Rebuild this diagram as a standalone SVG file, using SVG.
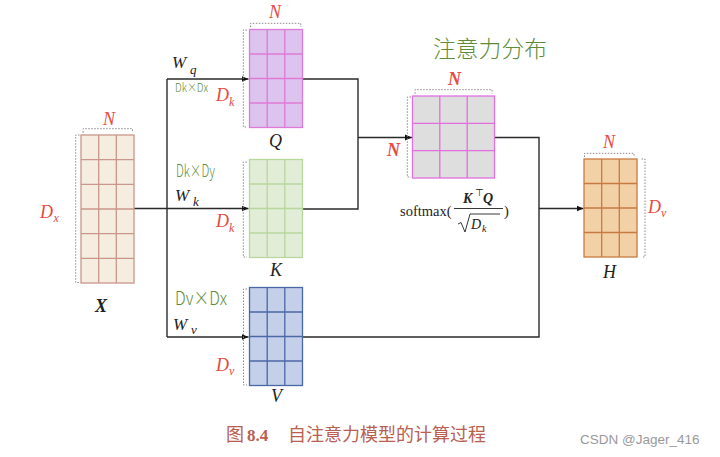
<svg xmlns="http://www.w3.org/2000/svg" width="720" height="457" viewBox="0 0 720 457">
<defs>
<marker id="arr" markerWidth="8" markerHeight="8" refX="7" refY="4" orient="auto" markerUnits="userSpaceOnUse">
<path d="M0,1 L7,4 L0,7 Z" fill="#111"/>
</marker>
<style>
.m{font-family:"Liberation Serif",serif;font-style:italic;}
.red{fill:#e84a3f;}
.blk{fill:#222;}
.br{fill:none;stroke:#8a8a8a;stroke-width:1;stroke-dasharray:1.5 1.5;}
.ln{fill:none;stroke:#2a2a2a;stroke-width:1.4;}
.hw{font-family:"Noto Sans CJK SC","DejaVu Sans",sans-serif;font-weight:300;fill:#5e8c3a;}
.gx{fill:#f5eee0;stroke:#c9968a;stroke-width:1.3;}
.gq{fill:#dcc4ee;stroke:#df7ad8;stroke-width:1.3;}
.gk{fill:#e1edd6;stroke:#b8d69e;stroke-width:1.3;}
.gv{fill:#c4cfe9;stroke:#4b68a6;stroke-width:1.3;}
.ga{fill:#dddedd;stroke:#e46ee0;stroke-width:1.3;}
.gh{fill:#f3d1a6;stroke:#c87a43;stroke-width:1.3;}
</style>
</defs>
<rect width="720" height="457" fill="#fff"/>

<g id="connectors">
<path class="ln" d="M134,208.5 H167"/>
<path class="ln" d="M167,79 V337"/>
<path class="ln" d="M167,79 H248.5" marker-end="url(#arr)"/>
<path class="ln" d="M167,208.5 H248.5" marker-end="url(#arr)"/>
<path class="ln" d="M167,337 H248.5" marker-end="url(#arr)"/>
<path class="ln" d="M302.5,79 H358 V209 H302.5"/>
<path class="ln" d="M358,137.5 H412" marker-end="url(#arr)"/>
<path class="ln" d="M494.5,137.5 H539 V337 H302.5"/>
<path class="ln" d="M539,208.5 H583.5" marker-end="url(#arr)"/>
</g>

<g id="X">
<rect class="gx" x="81" y="135" width="53" height="148"/>
<path class="gx" d="M98.7,135 V283 M116.3,135 V283 M81,159.7 H134 M81,184.3 H134 M81,209 H134 M81,233.7 H134 M81,258.3 H134"/>
<path class="br" d="M83,132.5 V128.7 H132.5 V132.5"/>
<path class="br" d="M79.5,135 H75.7 V282.5 H79.5"/>
<text class="m red" x="103" y="125" font-size="18">N</text>
<text class="m red" x="40" y="218" font-size="18">D</text>
<text class="m red" x="53.5" y="222" font-size="12">x</text>
<text class="m blk" x="95" y="312" font-size="18" font-weight="bold">X</text>
</g>

<g id="Q">
<rect class="gq" x="249.5" y="29.5" width="53" height="98"/>
<path class="gq" d="M267.2,29.5 V127.5 M284.8,29.5 V127.5 M249.5,54 H302.5 M249.5,78.5 H302.5 M249.5,103 H302.5"/>
<path class="br" d="M250.5,27 V23.3 H300.7 V27"/>
<path class="br" d="M247,30 H243.3 V127 H247"/>
<text class="m red" x="269" y="18" font-size="18">N</text>
<text class="m red" x="216" y="101" font-size="18">D</text>
<text class="m red" x="229" y="106" font-size="12">k</text>
<text class="m blk" x="269" y="147" font-size="18">Q</text>
<text class="m blk" x="172" y="68" font-size="17">W</text>
<text class="m blk" x="190" y="74" font-size="13">q</text>
<text class="hw" x="175" y="92" font-size="12" textLength="33" lengthAdjust="spacingAndGlyphs">Dk×Dx</text>
</g>

<g id="K">
<rect class="gk" x="249.5" y="159.5" width="53" height="98"/>
<path class="gk" d="M267.2,159.5 V257.5 M284.8,159.5 V257.5 M249.5,184 H302.5 M249.5,208.5 H302.5 M249.5,233 H302.5"/>
<path class="br" d="M247,162 H243.3 V257 H247"/>
<text class="m red" x="216" y="227" font-size="18">D</text>
<text class="m red" x="229" y="232" font-size="12">k</text>
<text class="m blk" x="270" y="276" font-size="18">K</text>
<text class="m blk" x="175" y="201" font-size="17">W</text>
<text class="m blk" x="193" y="206" font-size="13">k</text>
<text class="hw" x="176" y="177" font-size="17" textLength="39" lengthAdjust="spacingAndGlyphs">Dk×Dy</text>
</g>

<g id="V">
<rect class="gv" x="249.5" y="287.5" width="53" height="98"/>
<path class="gv" d="M267.2,287.5 V385.5 M284.8,287.5 V385.5 M249.5,312 H302.5 M249.5,336.5 H302.5 M249.5,361 H302.5"/>
<path class="br" d="M247,289 H243.5 V385 H247"/>
<text class="m red" x="216" y="371" font-size="18">D</text>
<text class="m red" x="229" y="375" font-size="12">v</text>
<text class="m blk" x="271" y="402" font-size="18">V</text>
<text class="m blk" x="173" y="330" font-size="17">W</text>
<text class="m blk" x="191" y="334" font-size="13">v</text>
<text class="hw" x="175" y="305" font-size="19" textLength="52" lengthAdjust="spacingAndGlyphs">Dv×Dx</text>
</g>

<g id="A">
<rect class="ga" x="412.5" y="96" width="82" height="82"/>
<path class="ga" d="M439.8,96 V178 M467.2,96 V178 M412.5,123.3 H494.5 M412.5,150.7 H494.5"/>
<path class="br" d="M415,93.5 V89.7 H492 V93.5"/>
<path class="br" d="M411,97 H407.3 V177 H411"/>
<text class="m red" x="448" y="85" font-size="18" font-weight="bold">N</text>
<text class="m red" x="387" y="156" font-size="18" font-weight="bold">N</text>
<text class="hw" x="433" y="57" font-size="23" textLength="114" lengthAdjust="spacingAndGlyphs">注意力分布</text>
<text x="400" y="216" font-size="14.5" font-family="Liberation Serif,serif" fill="#222">softmax(</text>
<text class="m blk" x="463" y="203" font-size="14" font-weight="bold">K</text>
<text x="475" y="196" font-size="10" font-family="DejaVu Sans,sans-serif" fill="#222">⊤</text>
<text class="m blk" x="483" y="203" font-size="14" font-weight="bold">Q</text>
<path d="M454,208.5 H503" stroke="#222" stroke-width="0.9"/>
<path d="M458,224 L461,222.5 L465,232 L470,214 H500" fill="none" stroke="#222" stroke-width="0.9"/>
<text class="m blk" x="471" y="229" font-size="14">D</text>
<text class="m blk" x="482" y="232" font-size="10">k</text>
<text x="504" y="216" font-size="14.5" font-family="Liberation Serif,serif" fill="#222">)</text>
</g>

<g id="H">
<rect class="gh" x="584" y="159" width="53" height="98"/>
<path class="gh" d="M601.7,159 V257 M619.3,159 V257 M584,183.5 H637 M584,208 H637 M584,232.5 H637"/>
<path class="br" d="M584.5,157 V153.3 H634 V157"/>
<path class="br" d="M641.5,159 H645 V257 H641.5"/>
<text class="m red" x="603" y="148" font-size="18">N</text>
<text class="m red" x="648" y="213" font-size="18">D</text>
<text class="m red" x="661" y="217" font-size="12">v</text>
<text class="m blk" x="603" y="278" font-size="18">H</text>
</g>

<g id="caption">
<text x="226" y="441" font-size="18" font-family="Noto Sans CJK SC,sans-serif" fill="#b9604f">图</text>
<text x="247" y="441" font-size="17" font-family="Liberation Serif,serif" font-weight="bold" fill="#b9604f">8.4</text>
<text x="288" y="441" font-size="18" font-family="Noto Sans CJK SC,sans-serif" fill="#b9604f">自注意力模型的计算过程</text>
<text x="580" y="444" font-size="13.5" font-family="Liberation Sans,sans-serif" fill="#999">CSDN @Jager_416</text>
</g>
</svg>
